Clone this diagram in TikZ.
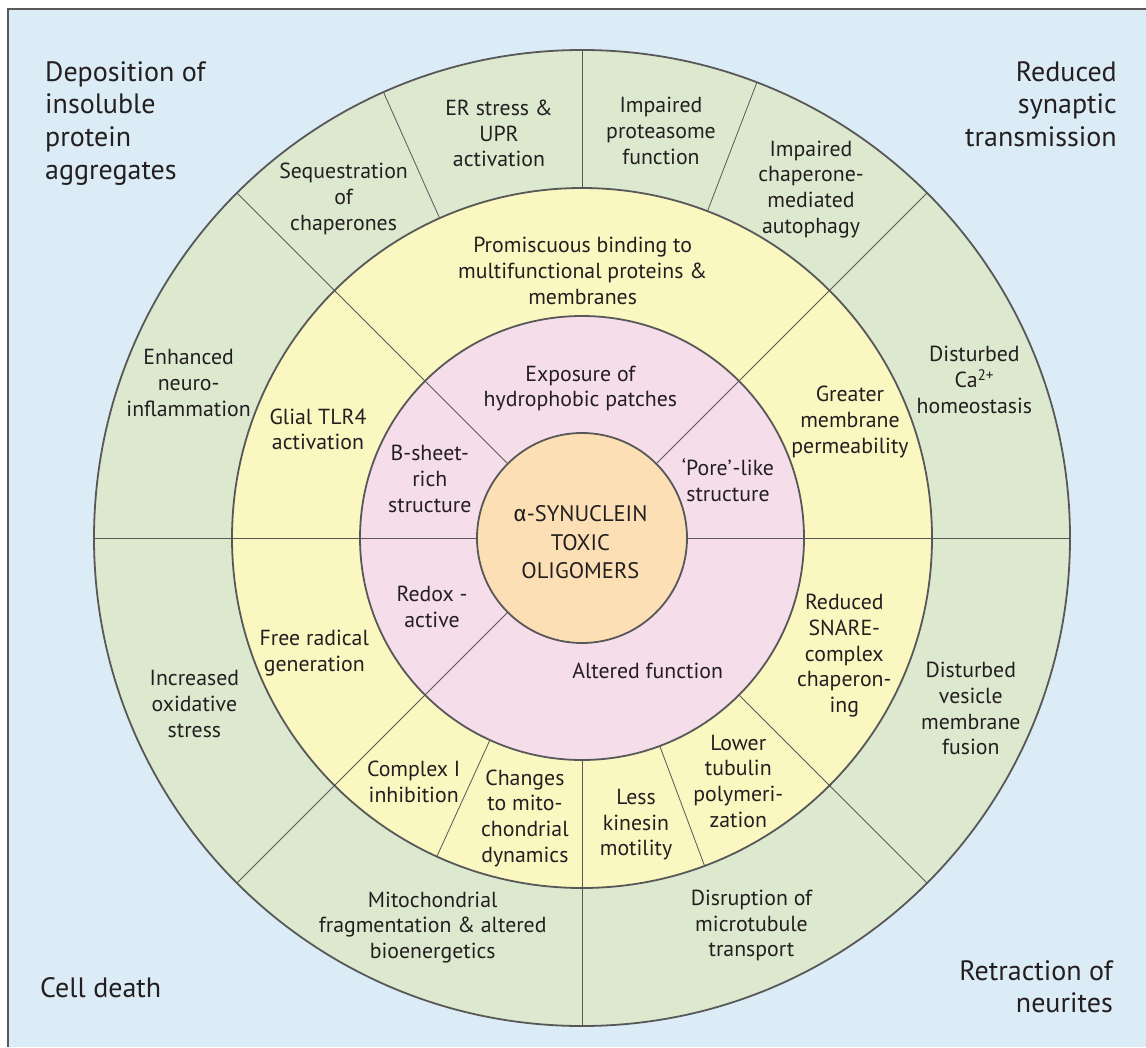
\documentclass[tikz,border=0pt]{standalone}
\usepackage{fontspec}
\setmainfont{PT Sans}
\newfontfamily\grkfont{Fira Sans}
\usetikzlibrary{calc}
\definecolor{bgblue}{RGB}{220,236,246}
\definecolor{ringgreen}{RGB}{220,233,207}
\definecolor{ringyellow}{RGB}{250,247,193}
\definecolor{ringpink}{RGB}{245,221,234}
\definecolor{coreorange}{RGB}{253,223,181}
\definecolor{edge}{RGB}{88,88,88}
\definecolor{txt}{RGB}{35,31,32}
\begin{document}
\begin{tikzpicture}[x=1pt,y=-1pt,
  lbl/.style={align=center, text=txt, font=\fontsize{21.8}{25.7}\selectfont, inner sep=0pt},
  corner/.style={text=txt, font=\fontsize{28}{32.7}\selectfont, inner sep=0pt},
  corelbl/.style={align=center, text=txt, font=\fontsize{22.5}{28.2}\selectfont, inner sep=0pt},
  ringline/.style={draw=edge, line width=1.8pt},
  divline/.style={draw=edge, line width=0.8pt}]
\useasboundingbox (0,0) rectangle (1146,1047);
\fill[bgblue] (8,9) rectangle (1146,1047);
\draw[edge, line width=2pt] (8,1047) -- (8,9) -- (1146,9);
\coordinate (c) at (582,538);
% ring fills
\fill[ringgreen] (c) circle[radius=488pt];
\fill[ringyellow] (c) circle[radius=350pt];
\fill[ringpink] (c) circle[radius=222pt];
\fill[coreorange] (c) circle[radius=105pt];
% dividers
\foreach \a/\ri/\ro in {0/105/488, 180/105/488, 45/105/488, 135/105/488, 225/105/488,
  315/222/488, 90/350/488, 270/222/488, 114/350/488, 69/350/488, 245.5/222/350, 290.5/222/350}
  \draw[divline] ($(c)+(\a:\ri pt)$) -- ($(c)+(\a:\ro pt)$);
% ring outlines
\draw[ringline] (c) circle[radius=488pt];
\draw[ringline] (c) circle[radius=350pt];
\draw[ringline] (c) circle[radius=222pt];
\draw[ringline] (c) circle[radius=105pt];
% corner labels
\node[corner, align=left, anchor=north west] (tl) at (45,61) {Deposition of\\insoluble\\protein\\aggregates};
\node[corner, align=right, anchor=north east] (tr) at (1117,61) {Reduced\\synaptic\\transmission};
\node[corner, anchor=west] (bl) at (40,988) {Cell death};
\node[corner, align=right, anchor=north east] (br) at (1113,960) {Retraction of\\neurites};
% green ring
\node[lbl] (g1) at (343.6,199) {Sequestration\\of\\chaperones};
\node[lbl] (g2) at (499,133.5) {ER stress \&\\UPR\\activation};
\node[lbl] (g3) at (661,131) {Impaired\\proteasome\\function};
\node[lbl] (g4) at (811,189.3) {Impaired\\chaperone-\\mediated\\autophagy};
\node[lbl] (g5) at (188.6,383) {Enhanced\\neuro-\\inflammation};
\node[lbl] (g6) at (974.4,380) {Disturbed\\Ca\textsuperscript{2+}\\homeostasis};
\node[lbl] (g7) at (194.4,704) {Increased\\oxidative\\stress};
\node[lbl] (g8) at (432.7,927.5) {Mitochondrial\\fragmentation \& altered\\bioenergetics};
\node[lbl] (g9) at (751.5,925.5) {Disruption of\\microtubule\\transport};
\node[lbl] (g10) at (970.8,708.8) {Disturbed\\vesicle\\membrane\\fusion};
% yellow ring
\node[lbl] (y1) at (582.6,271) {Promiscuous binding to\\multifunctional proteins \&\\membranes};
\node[lbl] (y2) at (318,429.4) {Glial TLR4\\activation};
\node[lbl] (y3) at (850,422) {Greater\\membrane\\permeability};
\node[lbl] (y4) at (314.3,653) {Free radical\\generation};
\node[lbl] (y5) at (844.3,655.7) {Reduced\\SNARE-\\complex\\chaperon-\\ing};
\node[lbl] (y6) at (413.7,781.6) {Complex I\\inhibition};
\node[lbl] (y7) at (524.9,818.3) {Changes\\to mito-\\chondrial\\dynamics};
\node[lbl] (y8) at (636,824.7) {Less\\kinesin\\motility};
\node[lbl] (y9) at (738.3,781.3) {Lower\\tubulin\\polymeri-\\zation};
% pink ring
\node[lbl] (p1) at (580.4,388.6) {Exposure of\\hydrophobic patches};
\node[lbl] (p2) at (429.8,478.8) {B-sheet-\\rich\\structure};
\node[lbl] (p3) at (728,480.4) {‘Pore’\kern1pt-like\\structure};
\node[lbl] (p4) at (432,606.6) {Redox -\\active};
\node[lbl] (p5) at (647.7,671) {Altered function};
% core
\node[corelbl] (core) at (580.4,542.2) {{\grkfont α}-SYNUCLEIN\\TOXIC\\OLIGOMERS};
\end{tikzpicture}
\end{document}
